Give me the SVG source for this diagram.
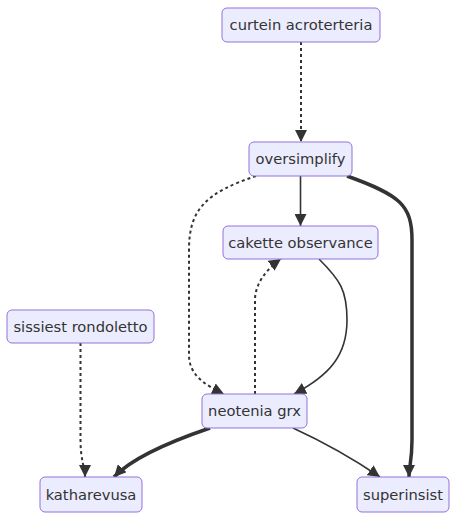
<svg xmlns="http://www.w3.org/2000/svg" width="457" height="520" viewBox="0 0 457 520">
<style>
.node rect{fill:#ECECFF;stroke:#9370DB;stroke-width:1}
.node text{font-family:"DejaVu Sans",sans-serif;font-size:14.7px;fill:#333;text-anchor:middle}
.e{fill:none;stroke:#333;stroke-width:1.6}
.thick{stroke-width:3.5}
.dot{stroke-dasharray:3 3;stroke-width:2}
</style>
<defs>
<marker id="arr" viewBox="0 0 10 10" refX="10" refY="5" markerUnits="userSpaceOnUse" markerWidth="12" markerHeight="12" orient="auto">
<path d="M0,0 L10,5 L0,10 z" fill="#333"/>
</marker>
</defs>
<rect width="457" height="520" fill="#fff"/>
<g id="connectors">
<path class="e dot" d="M301,42 L301,142" marker-end="url(#arr)"/>
<path class="e" d="M300.5,176 L300.5,226" marker-end="url(#arr)"/>
<path class="e dot" d="M256,176 C205,193 189,210 189,250 L189,355 C189,375 205,385 224,394" marker-end="url(#arr)"/>
<path class="e dot" d="M255,394 L255,300 C255,285 265,270 281,259" marker-end="url(#arr)"/>
<path class="e" d="M319,259 C340,280 347,290 347,320 C347,355 330,375 294,394" marker-end="url(#arr)"/>
<path class="e thick" d="M347,176 C400,195 412,205 412,240 L412,440 C412,460 409,468 409,477" marker-end="url(#arr)"/>
<path class="e dot" d="M80.5,343 L80.5,440 C80.5,460 85,468 85,477" marker-end="url(#arr)"/>
<path class="e thick" d="M210,428 C160,445 130,460 114,477" marker-end="url(#arr)"/>
<path class="e" d="M293,428 C330,445 355,460 380,477" marker-end="url(#arr)"/>
</g>
<g id="n1" class="node"><rect x="222" y="8" width="158" height="34" rx="5"/><text x="301" y="30">curtein acroterteria</text></g>
<g id="n2" class="node"><rect x="249" y="142" width="103" height="34" rx="5"/><text x="300.5" y="164">oversimplify</text></g>
<g id="n3" class="node"><rect x="223" y="226" width="155" height="33" rx="5"/><text x="300.5" y="247.5">cakette observance</text></g>
<g id="n4" class="node"><rect x="7" y="310" width="147" height="33" rx="5"/><text x="80.5" y="331.5">sissiest rondoletto</text></g>
<g id="n5" class="node"><rect x="202" y="394" width="105" height="34" rx="5"/><text x="254.5" y="416">neotenia grx</text></g>
<g id="n6" class="node"><rect x="40" y="477" width="102" height="35" rx="5"/><text x="91" y="499.5">katharevusa</text></g>
<g id="n7" class="node"><rect x="357" y="477" width="92" height="35" rx="5"/><text x="403" y="499.5">superinsist</text></g>
</svg>
